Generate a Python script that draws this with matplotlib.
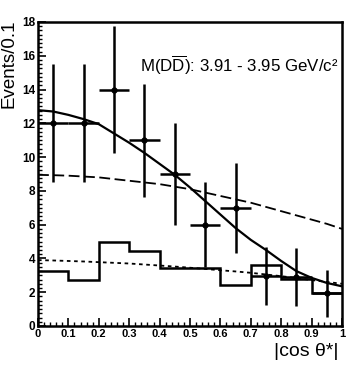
import numpy as np
import matplotlib
matplotlib.use('Agg')
import matplotlib.pyplot as plt
from matplotlib.ticker import MultipleLocator

plt.rcParams['font.family'] = ['Liberation Sans', 'DejaVu Sans']
plt.rcParams['mathtext.fontset'] = 'custom'
plt.rcParams['mathtext.rm'] = 'Liberation Sans'

# data points (|cos theta*| bins)
x_pts = [0.05, 0.15, 0.25, 0.35, 0.45, 0.55, 0.65, 0.75, 0.85, 0.95]
y_pts = [12, 12, 14, 11, 9, 6, 7, 2.95, 2.9, 1.93]
y_err = [3.5, 3.5, 3.75, 3.35, 3.0, 2.5, 2.65, 1.7, 1.7, 1.4]

# histogram (background from sidebands)
hist_edges = [0, 0.1, 0.2, 0.3, 0.4, 0.5, 0.6, 0.7, 0.8, 0.9, 1.0]
hist_vals = [3.27, 2.72, 4.95, 4.42, 3.45, 3.45, 2.43, 3.59, 2.8, 1.93]

# fit curves
curve_x = [0, 0.05, 0.1, 0.15, 0.2, 0.25, 0.3, 0.35, 0.4, 0.45, 0.5,
           0.55, 0.6, 0.65, 0.7, 0.75, 0.8, 0.85, 0.9, 0.95, 1.0]
solid_y = [12.78, 12.7, 12.5, 12.25, 11.95, 11.4, 10.85, 10.25, 9.6, 8.95, 8.2,
           7.4, 6.6, 5.8, 5.1, 4.5, 3.85, 3.25, 2.85, 2.55, 2.35]
dashed_y = [8.95, 8.93, 8.9, 8.85, 8.8, 8.7, 8.6, 8.5, 8.4, 8.25, 8.1,
            7.9, 7.7, 7.5, 7.3, 7.05, 6.8, 6.55, 6.3, 6.05, 5.75]
dotted_y = [3.9, 3.88, 3.85, 3.82, 3.78, 3.74, 3.7, 3.64, 3.58, 3.52, 3.45,
            3.38, 3.3, 3.23, 3.15, 3.05, 2.95, 2.84, 2.72, 2.61, 2.5]

fig = plt.figure(figsize=(3.59, 3.76), dpi=100)
ax = fig.add_axes([38/359, 1 - 326/376, 304/359, 304/376])

ax.stairs(hist_vals, hist_edges, color='black', lw=1.8, baseline=None)
ax.plot(curve_x, dashed_y, color='black', lw=1.3, ls=(0, (6, 2.5)))
ax.plot(curve_x, dotted_y, color='black', lw=1.3, ls=(0, (2, 2)))
ax.plot(curve_x, solid_y, color='black', lw=1.6)
ax.errorbar(x_pts, y_pts, yerr=y_err, xerr=0.05, fmt='o', ms=3.5,
            color='black', elinewidth=1.8, capsize=0)

ax.set_xlim(0, 1)
ax.set_ylim(0, 18)
ax.xaxis.set_minor_locator(MultipleLocator(0.02))
ax.yaxis.set_major_locator(MultipleLocator(2))
ax.yaxis.set_minor_locator(MultipleLocator(0.25))
ax.set_xticks([0, 0.1, 0.2, 0.3, 0.4, 0.5, 0.6, 0.7, 0.8, 0.9, 1.0])
ax.set_xticklabels(['0', '0.1', '0.2', '0.3', '0.4', '0.5', '0.6', '0.7', '0.8', '0.9', '1'])
ax.tick_params(which='both', direction='in', top=False, right=False)
ax.tick_params(which='major', length=6, width=1.2, pad=2)
ax.tick_params(axis='y', which='major', labelsize=8.5)
ax.tick_params(axis='x', which='major', labelsize=8)
ax.tick_params(which='minor', length=3, width=1.0)
for lab in ax.get_xticklabels() + ax.get_yticklabels():
    lab.set_fontweight('bold')
for sp in ax.spines.values():
    sp.set_linewidth(1.8)

ax.text(0.336, 15.45, r'M(D$\overline{\mathrm{D}}$): 3.91 - 3.95 GeV/c²',
        fontsize=12.2, ha='left', va='center')
fig.text(9/359, 1 - 20/376, 'Events/0.1', rotation=90, ha='center', va='top', fontsize=13.5)
fig.text(338/359, 1 - 352/376, '|cos θ*|', ha='right', va='center', fontsize=14)

fig.savefig('out.png', dpi=100)
